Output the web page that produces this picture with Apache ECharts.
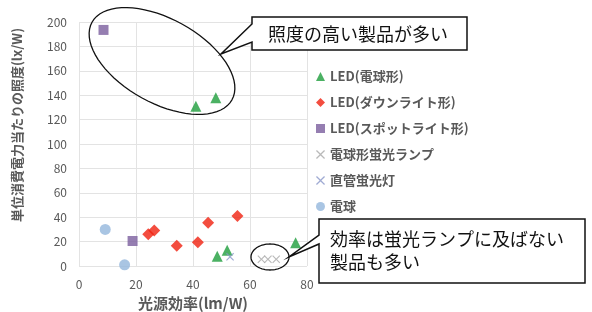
<!DOCTYPE html>
<html>
<head>
<meta charset="utf-8">
<script src="https://cdn.jsdelivr.net/npm/echarts@6/dist/echarts.min.js"></script>
<style>
  html, body { margin: 0; padding: 0; background: #fff; }
  #chart { width: 592px; height: 312px; }
</style>
</head>
<body>
<div id="chart"></div>
<script>
  // 系列名
  var seriesNames = ['LED(電球形)', 'LED(ダウンライト形)', 'LED(スポットライト形)', '電球形蛍光ランプ', '直管蛍光灯', '電球'];

  // 光源効率(lm/W) / 照度(lx/W)
  var ledBulbX = [41, 48, 48.5, 52, 76];
  var ledBulbY = [131, 138, 8, 13, 19];
  var ledDownX = [24.3, 26.4, 34.3, 41.7, 45.3, 55.6];
  var ledDownY = [26, 29, 16.5, 19.5, 35.5, 41];
  var ledSpotX = [8.6, 18.8];
  var ledSpotY = [193.5, 20.5];
  var cflX = [64, 66.3, 69.2];
  var cflY = [5.5, 5.5, 5.5];
  var tubeX = [53];
  var tubeY = [7.5];
  var bulbX = [9.2, 16];
  var bulbY = [30, 1];

  var xTicks = [0, 20, 40, 60, 80];
  var yTicks = [0, 20, 40, 60, 80, 100, 120, 140, 160, 180, 200];

  var font = '"Noto Sans CJK JP", "Noto Sans", sans-serif';
  var crossPath = 'path://M0,1L1,0L5,4L9,0L10,1L6,5L10,9L9,10L5,6L1,10L0,9L4,5Z';

  function pairs (xs, ys) {
    return xs.map(function (x, i) { return [x, ys[i]]; });
  }

  // 注釈用の楕円（ポリゴン近似）
  function ellipse (cx, cy, a, b, deg) {
    var pts = [];
    var t = deg * Math.PI / 180;
    for (var i = 0; i < 72; i++) {
      var u = i / 72 * Math.PI * 2;
      var x = a * Math.cos(u), y = b * Math.sin(u);
      pts.push([cx + x * Math.cos(t) - y * Math.sin(t), cy + x * Math.sin(t) + y * Math.cos(t)]);
    }
    return pts;
  }

  var option = {
    backgroundColor: '#fff',
    animation: false,
    grid: { left: 79, right: 285, top: 22, bottom: 46, outerBoundsMode: 'none' },
    xAxis: {
      type: 'value',
      min: xTicks[0],
      max: xTicks[xTicks.length - 1],
      interval: 20,
      name: '光源効率(lm/W)',
      nameLocation: 'middle',
      nameGap: 30,
      nameTextStyle: { color: '#595959', fontSize: 15, fontWeight: 'bold', fontFamily: font },
      axisLine: { show: false },
      axisTick: { show: false },
      axisLabel: { color: '#595959', fontSize: 12, margin: 12, fontFamily: font },
      splitLine: { lineStyle: { color: '#e3e3e3' } }
    },
    yAxis: {
      type: 'value',
      min: yTicks[0],
      max: yTicks[yTicks.length - 1],
      interval: 20,
      axisLine: { show: false },
      axisTick: { show: false },
      axisLabel: { color: '#595959', fontSize: 12, margin: 12, fontFamily: font },
      splitLine: { lineStyle: { color: '#e3e3e3' } }
    },
    legend: {
      orient: 'vertical',
      left: 311,
      top: 65,
      itemWidth: 9,
      itemHeight: 9,
      itemGap: 13,
      textStyle: { color: '#595959', fontSize: 13, fontWeight: 'bold', fontFamily: font },
      data: seriesNames
    },
    series: [
      { name: seriesNames[0], type: 'scatter', symbol: 'triangle', symbolSize: 11,
        itemStyle: { color: '#1e9e3c' }, data: pairs(ledBulbX, ledBulbY) },
      { name: seriesNames[1], type: 'scatter', symbol: 'diamond', symbolSize: 12,
        itemStyle: { color: '#f0200f' }, data: pairs(ledDownX, ledDownY) },
      { name: seriesNames[2], type: 'scatter', symbol: 'rect', symbolSize: 10,
        itemStyle: { color: '#7b5e9e' }, data: pairs(ledSpotX, ledSpotY) },
      { name: seriesNames[3], type: 'scatter', symbol: crossPath, symbolSize: 8,
        itemStyle: { color: '#a8a8a8' }, data: pairs(cflX, cflY) },
      { name: seriesNames[4], type: 'scatter', symbol: crossPath, symbolSize: 8,
        itemStyle: { color: '#8896c8' }, data: pairs(tubeX, tubeY) },
      { name: seriesNames[5], type: 'scatter', symbol: 'circle', symbolSize: 11,
        itemStyle: { color: '#93b6dc' }, data: pairs(bulbX, bulbY) }
    ],
    graphic: [
      {
        type: 'text', rotation: Math.PI / 2,
        x: 17, y: 125,
        style: { text: '単位消費電力当たりの照度(lx/W)', fill: '#595959', fontSize: 13, fontWeight: 'bold',
          fontFamily: font, align: 'center', verticalAlign: 'middle' }
      },
      {
        type: 'polygon', z: 100,
        shape: { points: ellipse(162, 61, 80, 42, 29) },
        style: { fill: 'none', stroke: '#111', lineWidth: 1.3 }
      },
      {
        type: 'polygon', z: 100,
        shape: { points: ellipse(270, 257, 19, 13, 0) },
        style: { fill: 'none', stroke: '#111', lineWidth: 1.3 }
      },
      {
        type: 'polygon', z: 100,
        shape: { points: [[252, 17], [467, 17], [467, 50], [252, 50], [252, 42], [221, 54], [252, 24]] },
        style: { fill: '#fff', stroke: '#111', lineWidth: 1.5 }
      },
      {
        type: 'text', z: 101, x: 268, y: 34,
        style: { text: '照度の高い製品が多い', fill: '#111', fontSize: 18, fontFamily: font, verticalAlign: 'middle' }
      },
      {
        type: 'polygon', z: 100,
        shape: { points: [[319, 219], [585, 219], [585, 283], [319, 283], [319, 244], [289, 257], [319, 235]] },
        style: { fill: '#fff', stroke: '#111', lineWidth: 1.5 }
      },
      {
        type: 'text', z: 101, x: 330, y: 251,
        style: { text: '効率は蛍光ランプに及ばない\n製品も多い', fill: '#111', fontSize: 18, lineHeight: 23,
          fontFamily: font, verticalAlign: 'middle' }
      }
    ]
  };

  var chart = echarts.init(document.getElementById('chart'), null, { renderer: 'canvas' });
  chart.setOption(option);
</script>
</body>
</html>
